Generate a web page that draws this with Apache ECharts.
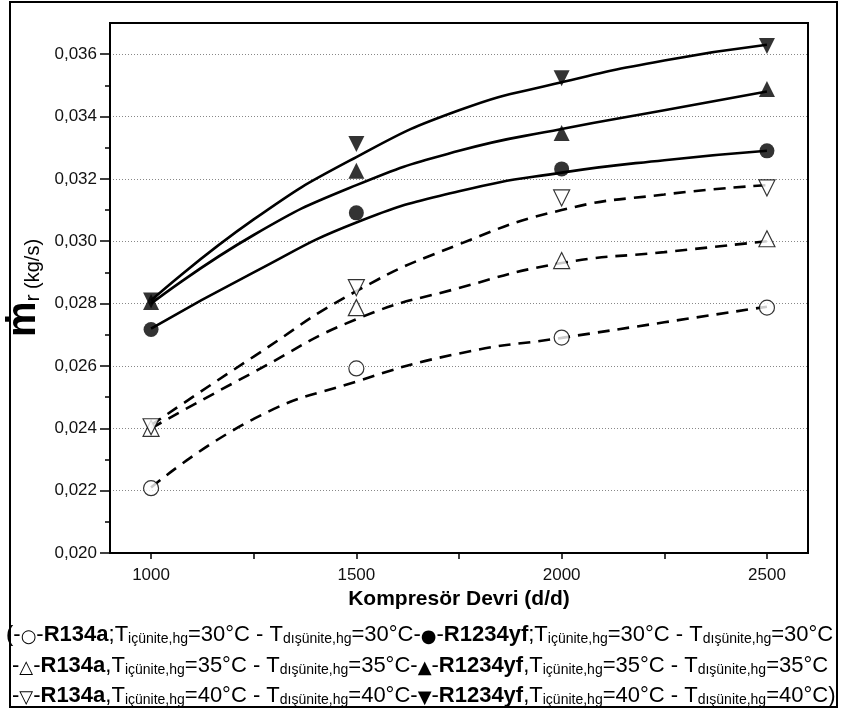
<!DOCTYPE html>
<html>
<head>
<meta charset="utf-8">
<script src="https://cdn.jsdelivr.net/npm/echarts@6/dist/echarts.min.js"></script>
<style>
html,body{margin:0;padding:0;background:#fff;}
#chart{width:843px;height:713px;}
</style>
</head>
<body>
<div id="chart"></div>
<script>
// ---- data ----
const rpm = [1000, 1500, 2000, 2500];
const r134a_30 = [0.02208, 0.02592, 0.02691, 0.02787];
const r134a_35 = [0.02400, 0.02787, 0.02938, 0.03008];
const r134a_40 = [0.02405, 0.02851, 0.03139, 0.03171];
const yf_30 = [0.02717, 0.03091, 0.03232, 0.03290];
const yf_35 = [0.02805, 0.03226, 0.03347, 0.03488];
const yf_40 = [0.02810, 0.03312, 0.03523, 0.03626];

// fitted curves
const fitRpm = [1000, 1250, 1500, 1750, 2000, 2250, 2500];
const fit_r134a_30 = [0.0221, 0.0243, 0.0255, 0.0264, 0.0269, 0.0274, 0.0279];
const fit_r134a_35 = [0.0240, 0.0258, 0.0275, 0.0285, 0.0293, 0.02965, 0.0300];
const fit_r134a_40 = [0.0241, 0.0263, 0.0284, 0.0299, 0.0310, 0.0315, 0.0318];
const fit_yf_30 = [0.0272, 0.0290, 0.0306, 0.0316, 0.0322, 0.0326, 0.0329];
const fit_yf_35 = [0.0280, 0.0302, 0.0318, 0.0329, 0.0336, 0.0342, 0.0348];
const fit_yf_40 = [0.0281, 0.0307, 0.0327, 0.0342, 0.0351, 0.0358, 0.0363];

const xLabels = [1000, 1500, 2000, 2500];
const xTicks = [1000, 1250, 1500, 1750, 2000, 2250, 2500];
const yLabels = [0.020, 0.022, 0.024, 0.026, 0.028, 0.030, 0.032, 0.034, 0.036];
const yMinor = [0.021, 0.023, 0.025, 0.027, 0.029, 0.031, 0.033, 0.035];

const xTitle = 'Kompresör Devri (d/d)';
const temps = ['30', '35', '40'];

const FONT = '"Liberation Sans", Arial, "DejaVu Sans", sans-serif';

function pairs(xs, ys) { return xs.map((x, i) => [x, ys[i]]); }

function markerSeries(name, ys, symbol, rotate, filled, size) {
  return {
    name: name, type: 'scatter', data: pairs(rpm, ys),
    symbol: symbol, symbolRotate: rotate, symbolSize: size,
    itemStyle: filled ? { color: '#000' } : { color: '#fff', borderColor: '#000', borderWidth: 1.2 },
    z: 5, silent: true
  };
}
function fitSeries(ys, dashed) {
  return {
    type: 'line', data: pairs(fitRpm, ys), smooth: true, showSymbol: false,
    lineStyle: { color: '#000', width: 2.6, type: dashed ? [12, 8] : 'solid' },
    z: 3, silent: true
  };
}

const chart = echarts.init(document.getElementById('chart'));

function legendRow(open, filled, t, first, last, sep) {
  return (first ? '{n|(}' : '') +
    '{n|-}{m|' + open + '}{n|-}{b|R134a}{n|' + sep + 'T}{s|içünite,hg}{n|=' + t + '°C - T}{s|dışünite,hg}{n|=' + t + '°C}' +
    '{n|-}{m|' + filled + '}{n|-}{b|R1234yf}{n|' + sep + 'T}{s|içünite,hg}{n|=' + t + '°C - T}{s|dışünite,hg}{n|=' + t + '°C' + (last ? ')' : '') + '}';
}
const rich = {
  n: { fontFamily: FONT, fontSize: 22, color: '#000', lineHeight: 26, verticalAlign: 'bottom' },
  b: { fontFamily: FONT, fontSize: 22, fontWeight: 'bold', color: '#000', lineHeight: 26, verticalAlign: 'bottom' },
  s: { fontFamily: FONT, fontSize: 14, color: '#000', lineHeight: 13, verticalAlign: 'bottom' },
  m: { fontFamily: '"DejaVu Sans", sans-serif', fontSize: 18, color: '#000', lineHeight: 25, verticalAlign: 'bottom' }
};

const option = {
  backgroundColor: '#fff',
  animation: false,
  grid: { left: 110, right: 35, top: 23, bottom: 160, show: true, borderColor: '#000', borderWidth: 2,
    containLabel: false, outerBoundsMode: 'none' },
  xAxis: {
    type: 'value', min: 900, max: 2600,
    axisLine: { show: true, onZero: false, lineStyle: { color: '#000', width: 2 } },
    axisTick: { show: true, customValues: xTicks, length: 6, lineStyle: { color: '#000', width: 1.5 } },
    axisLabel: { customValues: xLabels, margin: 14, fontFamily: FONT, fontSize: 17, color: '#111',
      formatter: v => String(v) },
    splitLine: { show: false },
    name: xTitle, nameLocation: 'middle', nameGap: 33,
    nameTextStyle: { fontFamily: FONT, fontSize: 21, fontWeight: 'bold', color: '#000' }
  },
  yAxis: [{
    type: 'value', min: 0.020, max: 0.037, interval: 0.002,
    axisLine: { show: true, onZero: false, lineStyle: { color: '#000', width: 2 } },
    axisTick: { show: true, customValues: yLabels, length: 10, lineStyle: { color: '#000', width: 1.5 } },
    axisLabel: { customValues: yLabels, margin: 13, fontFamily: FONT, fontSize: 17, color: '#111',
      formatter: v => v.toFixed(3).replace('.', ',') },
    splitLine: { show: true, lineStyle: { color: '#888', width: 1, type: [1, 2] } },
    name: '{m|ṁ}{r|r}{u| (kg/s)}', nameLocation: 'middle', nameRotate: 90, nameGap: 60,
    nameTextStyle: {
      rich: {
        m: { fontFamily: FONT, fontSize: 40, fontWeight: 'bold', color: '#000', lineHeight: 40, verticalAlign: 'bottom' },
        r: { fontFamily: FONT, fontSize: 21, color: '#000', lineHeight: 23, verticalAlign: 'bottom' },
        u: { fontFamily: FONT, fontSize: 20, color: '#000', lineHeight: 32, verticalAlign: 'bottom' }
      }
    }
  }, {
    type: 'value', min: 0.020, max: 0.037, position: 'left',
    axisLine: { show: false },
    axisTick: { show: true, customValues: yMinor, length: 5, lineStyle: { color: '#000', width: 1.5 } },
    axisLabel: { show: false },
    splitLine: { show: false }
  }],
  graphic: [
    { type: 'rect', shape: { x: 10, y: 2, width: 827, height: 705 }, style: { fill: 'none', stroke: '#000', lineWidth: 2 }, z: 100 },
    { type: 'text', x: 6, y: 633, style: { text: legendRow('○', '●', temps[0], true, false, ';'), rich: rich, textVerticalAlign: 'middle' } },
    { type: 'text', x: 12, y: 664, style: { text: legendRow('△', '▲', temps[1], false, false, ','), rich: rich, textVerticalAlign: 'middle' } },
    { type: 'text', x: 12, y: 694, style: { text: legendRow('▽', '▼', temps[2], false, true, ','), rich: rich, textVerticalAlign: 'middle' } }
  ],
  series: [
    fitSeries(fit_r134a_30, true),
    fitSeries(fit_r134a_35, true),
    fitSeries(fit_r134a_40, true),
    fitSeries(fit_yf_30, false),
    fitSeries(fit_yf_35, false),
    fitSeries(fit_yf_40, false),
    markerSeries('R134a 30', r134a_30, 'circle', 0, false, 15),
    markerSeries('R134a 35', r134a_35, 'triangle', 0, false, 16),
    markerSeries('R134a 40', r134a_40, 'triangle', 180, false, 16),
    markerSeries('R1234yf 30', yf_30, 'circle', 0, true, 15),
    markerSeries('R1234yf 35', yf_35, 'triangle', 0, true, 16),
    markerSeries('R1234yf 40', yf_40, 'triangle', 180, true, 16)
  ]
};
chart.setOption(option);
</script>
</body>
</html>
